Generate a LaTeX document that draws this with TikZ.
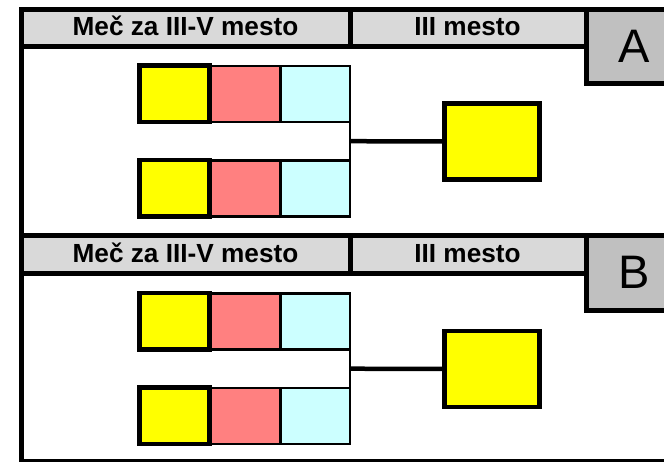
\documentclass[tikz,border=0pt]{standalone}
\usepackage{fontspec}
\setmainfont{Liberation Sans}
\usetikzlibrary{calc}
\definecolor{hdrgray}{HTML}{D9D9D9}
\definecolor{lettergray}{HTML}{C0C0C0}
\definecolor{boxyellow}{HTML}{FFFF00}
\definecolor{boxred}{HTML}{FF8080}
\definecolor{boxcyan}{HTML}{CCFFFF}
\tikzset{
  cell/.style={rectangle, draw=black, line width=5bp, inner sep=0pt, outer sep=0pt},
  hdrcell/.style={cell, fill=hdrgray},
  lettercell/.style={cell, fill=lettergray},
  hdrtext/.style={anchor=base, inner sep=0pt, font=\fontsize{26.2bp}{30bp}\selectfont\bfseries},
  lettertext/.style={anchor=base, inner sep=0pt, font=\fontsize{47bp}{52bp}\selectfont},
  thinbox/.style={rectangle, draw=black, line width=2.7bp, inner sep=0pt, outer sep=0pt, minimum height=56bp},
  thickbox/.style={rectangle, draw=black, line width=4.5bp, inner sep=0pt, outer sep=0pt},
  redbox/.style={thinbox, fill=boxred, minimum width=71bp},
  cyanbox/.style={thinbox, fill=boxcyan, minimum width=69.5bp},
  yellowbox/.style={thickbox, fill=boxyellow, minimum width=70bp, minimum height=56.5bp},
  winnerbox/.style={thickbox, fill=boxyellow, minimum width=95bp, minimum height=76bp},
  joinline/.style={draw=black, line width=2.7bp},
  linkline/.style={draw=black, line width=4.5bp},
}
\begin{document}
\begin{tikzpicture}[x=1bp, y=-1bp]
\useasboundingbox (0,0) rectangle (664,462);
\fill[white] (0,0) rectangle (664,462);
\clip (0,0) rectangle (664,462);
\foreach \p/\fs/\cs in {A/0/0,B/226/227.5} {
  \begin{scope}[yshift=-\fs bp]
    % panel body
    \node[cell, fill=white, minimum width=678.5bp, minimum height=188.5bp] (body\p) at (360.75,141.25) {};
    % header cells
    \node[hdrcell, minimum width=329bp, minimum height=37.5bp] (hl\p) at (186,28.25) {};
    \node[hdrcell, minimum width=235.5bp, minimum height=37.5bp] (hr\p) at (468.25,28.25) {};
    \node[hdrtext] (tl\p) at (185.5,36) {Meč za III-V mesto};
    \node[hdrtext] (tr\p) at (467.5,36) {III mesto};
    % letter box
    \node[lettercell, minimum width=114bp, minimum height=74.5bp] (lb\p) at (643,46.75) {};
    \node[lettertext] (lt\p) at (634,62.5) {\p};
  \end{scope}
  \begin{scope}[yshift=-\cs bp]
    % upper pair
    \node[redbox] (r1\p) at (245,94) {};
    \node[cyanbox] (c1\p) at (315.25,94) {};
    \node[yellowbox] (y1\p) at (174.5,93.75) {};
    % lower pair
    \node[redbox] (r2\p) at (245,188.4) {};
    \node[cyanbox] (c2\p) at (315.25,188.4) {};
    \node[yellowbox] (y2\p) at (174.5,188.25) {};
    % winner
    \node[winnerbox] (w\p) at (492,141.5) {};
    % connectors
    \draw[joinline] (c1\p.south east) -- (c2\p.north east);
    \coordinate (j\p) at ($(c1\p.south east)!0.5!(c2\p.north east)$);
    \draw[linkline] (j\p) -- (w\p.west);
  \end{scope}
}
\end{tikzpicture}
\end{document}
